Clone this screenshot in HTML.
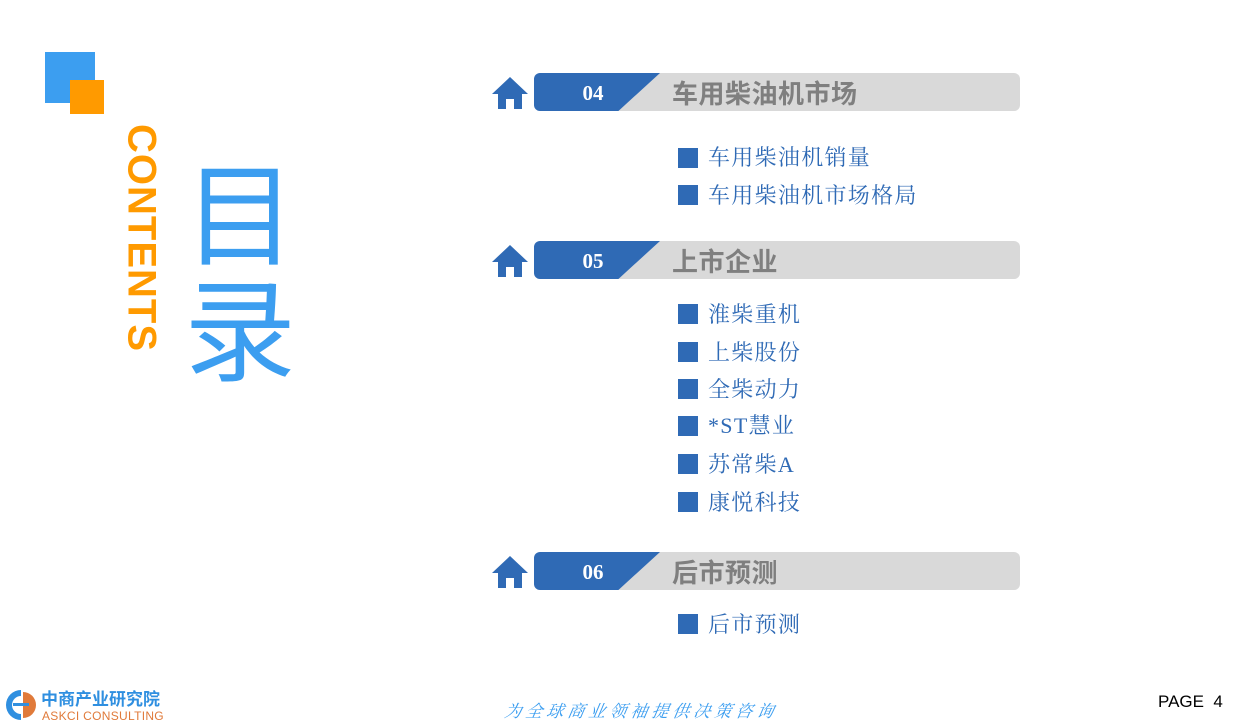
<!DOCTYPE html>
<html><head><meta charset="utf-8"><style>
body{margin:0;width:1251px;height:726px;background:#fff;position:relative;overflow:hidden;font-family:"Liberation Sans","Noto Sans CJK SC",sans-serif}
.a{position:absolute}
.sq{position:absolute;left:678px;width:20px;height:20px;background:#2f6ab5}
.it{position:absolute;left:708px;font-family:"Liberation Serif","Noto Serif CJK SC",serif;font-size:22px;letter-spacing:1.3px;color:#2f6ab5;line-height:28px}
.bar{position:absolute;left:534px;width:486px;height:38px}
.bar .g{position:absolute;left:80px;top:0;width:406px;height:38px;background:#d9d9d9;border-radius:6px}
.bar .b{position:absolute;left:0;top:0;width:126px;height:38px;background:#2f6ab5;border-radius:6px 0 0 6px;clip-path:polygon(0 0,100% 0,67% 100%,0 100%)}
.bar .n{position:absolute;left:36px;top:8px;width:46px;text-align:center;color:#fff;font:bold 21px "Liberation Serif",serif}
.bar .t{position:absolute;left:138px;top:4px;font:bold 26px/34px "Liberation Sans","Noto Sans CJK SC",sans-serif;color:#7f7f7f;letter-spacing:0.5px}
.home{position:absolute;left:491px;width:38px;height:34px}
</style></head><body>
<div class="a" style="left:45px;top:52px;width:50px;height:51px;background:#3c9ef0"></div>
<div class="a" style="left:70px;top:80px;width:34px;height:34px;background:#ff9a00"></div>
<div class="a" style="left:141px;top:238px;transform:translate(-50%,-50%) rotate(90deg);font:bold 40px 'Liberation Sans',sans-serif;color:#ff9a00;white-space:nowrap;letter-spacing:1px">CONTENTS</div>
<div class="a" style="left:184px;top:150px;font-size:112px;line-height:116px;color:#3c9ef0;font-family:'Noto Sans CJK SC',sans-serif;width:120px">目<br>录</div>

<svg class="home" style="top:76px" viewBox="0 0 38 34"><path d="M19 1 L37 18 H31 V33 H23 V23 H15 V33 H7 V18 H1 Z" fill="#2f6ab5"/></svg>
<div class="bar" style="top:73px"><div class="g"></div><div class="b"></div><div class="n">04</div><div class="t">车用柴油机市场</div></div>
<div class="sq" style="top:148px"></div><div class="it" style="top:144px">车用柴油机销量</div>
<div class="sq" style="top:185px"></div><div class="it" style="top:182px">车用柴油机市场格局</div>

<svg class="home" style="top:244px" viewBox="0 0 38 34"><path d="M19 1 L37 18 H31 V33 H23 V23 H15 V33 H7 V18 H1 Z" fill="#2f6ab5"/></svg>
<div class="bar" style="top:241px"><div class="g"></div><div class="b"></div><div class="n">05</div><div class="t">上市企业</div></div>
<div class="sq" style="top:304px"></div><div class="it" style="top:301px">淮柴重机</div>
<div class="sq" style="top:342px"></div><div class="it" style="top:339px">上柴股份</div>
<div class="sq" style="top:379px"></div><div class="it" style="top:376px">全柴动力</div>
<div class="sq" style="top:416px"></div><div class="it" style="top:412px">*ST慧业</div>
<div class="sq" style="top:454px"></div><div class="it" style="top:451px">苏常柴A</div>
<div class="sq" style="top:492px"></div><div class="it" style="top:489px">康悦科技</div>

<svg class="home" style="top:555px" viewBox="0 0 38 34"><path d="M19 1 L37 18 H31 V33 H23 V23 H15 V33 H7 V18 H1 Z" fill="#2f6ab5"/></svg>
<div class="bar" style="top:552px"><div class="g"></div><div class="b"></div><div class="n">06</div><div class="t">后市预测</div></div>
<div class="sq" style="top:614px"></div><div class="it" style="top:611px">后市预测</div>

<svg class="a" style="left:5px;top:688px" width="32" height="34" viewBox="0 0 32 34"><path d="M16 2 A15 15 0 1 0 16 32 L16 26 A9 9 0 1 1 16 8 Z" fill="#2f8fe0"/><path d="M18 4 A13 13 0 0 1 18 30 Z" fill="#e07a3a"/><rect x="8" y="15" width="16" height="3" fill="#2f8fe0"/></svg>
<div class="a" style="left:41px;top:688px;font:bold 17px 'Noto Sans CJK SC',sans-serif;color:#2f8fe0;line-height:20px">中商产业研究院</div>
<div class="a" style="left:42px;top:709px;font:12px 'Liberation Sans',sans-serif;color:#e07a3a;letter-spacing:0.3px">ASKCI CONSULTING</div>
<div class="a" style="left:505px;top:697px;font:italic 17px 'Liberation Serif','Noto Serif CJK SC',serif;color:#3c9ef0;letter-spacing:4px;transform:skewX(-10deg)">为全球商业领袖提供决策咨询</div>
<div class="a" style="left:1158px;top:692px;font:17px 'Liberation Sans',sans-serif;color:#000">PAGE&nbsp; 4</div>
</body></html>
